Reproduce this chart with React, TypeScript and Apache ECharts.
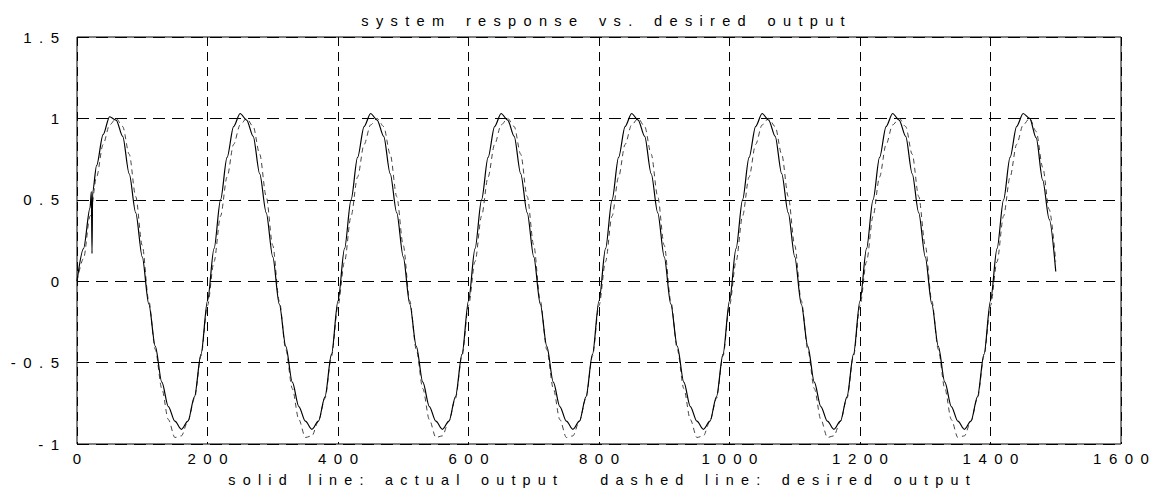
import React, { useEffect, useRef } from "react";
import * as echarts from "echarts";

const titleText = "system response vs. desired output";
const xAxisTitle = "solid line: actual output  dashed line: desired output";

// sample positions (every 10 time steps, 0..1500)
const sampleStep = 10;
const sampleCount = 151;

// actual output (solid)
const actualOutput = [
  0.00, 0.20, 0.45, 0.71, 0.90, 1.01, 0.99, 0.89, 0.66, 0.42, 0.15, -0.14, -0.40, -0.62, -0.77, -0.86, -0.91, -0.86, -0.71, -0.45,
  -0.12, 0.20, 0.50, 0.76, 0.95, 1.03, 0.99, 0.89, 0.66, 0.42, 0.15, -0.14, -0.40, -0.62, -0.77, -0.86, -0.91, -0.86, -0.71, -0.45,
  -0.12, 0.20, 0.50, 0.76, 0.95, 1.03, 0.99, 0.89, 0.66, 0.42, 0.15, -0.14, -0.40, -0.62, -0.77, -0.86, -0.91, -0.86, -0.71, -0.45,
  -0.12, 0.20, 0.50, 0.76, 0.95, 1.03, 0.99, 0.89, 0.66, 0.42, 0.15, -0.14, -0.40, -0.62, -0.77, -0.86, -0.91, -0.86, -0.71, -0.45,
  -0.12, 0.20, 0.50, 0.76, 0.95, 1.03, 0.99, 0.89, 0.66, 0.42, 0.15, -0.14, -0.40, -0.62, -0.77, -0.86, -0.91, -0.86, -0.71, -0.45,
  -0.12, 0.20, 0.50, 0.76, 0.95, 1.03, 0.99, 0.89, 0.66, 0.42, 0.15, -0.14, -0.40, -0.62, -0.77, -0.86, -0.91, -0.86, -0.71, -0.45,
  -0.12, 0.20, 0.50, 0.76, 0.95, 1.03, 0.99, 0.89, 0.66, 0.42, 0.15, -0.14, -0.40, -0.62, -0.77, -0.86, -0.91, -0.86, -0.71, -0.45,
  -0.12, 0.20, 0.50, 0.76, 0.95, 1.03, 1.00, 0.88, 0.62, 0.38, 0.06,
];

// start-up glitch in the actual output
const glitchX = [22, 23, 24];
const glitchY = [0.55, 0.17, 0.55];

// desired output (dashed)
const desiredOutput = [
  0.00, 0.14, 0.40, 0.64, 0.84, 0.96, 1.00, 0.95, 0.78, 0.52, 0.22, -0.12, -0.42, -0.66, -0.85, -0.96, -0.95, -0.86, -0.72, -0.46,
  -0.15, 0.12, 0.40, 0.64, 0.84, 0.96, 1.00, 0.95, 0.78, 0.52, 0.22, -0.12, -0.42, -0.66, -0.85, -0.96, -0.95, -0.86, -0.72, -0.46,
  -0.15, 0.12, 0.40, 0.64, 0.84, 0.96, 1.00, 0.95, 0.78, 0.52, 0.22, -0.12, -0.42, -0.66, -0.85, -0.96, -0.95, -0.86, -0.72, -0.46,
  -0.15, 0.12, 0.40, 0.64, 0.84, 0.96, 1.00, 0.95, 0.78, 0.52, 0.22, -0.12, -0.42, -0.66, -0.85, -0.96, -0.95, -0.86, -0.72, -0.46,
  -0.15, 0.12, 0.40, 0.64, 0.84, 0.96, 1.00, 0.95, 0.78, 0.52, 0.22, -0.12, -0.42, -0.66, -0.85, -0.96, -0.95, -0.86, -0.72, -0.46,
  -0.15, 0.12, 0.40, 0.64, 0.84, 0.96, 1.00, 0.95, 0.78, 0.52, 0.22, -0.12, -0.42, -0.66, -0.85, -0.96, -0.95, -0.86, -0.72, -0.46,
  -0.15, 0.12, 0.40, 0.64, 0.84, 0.96, 1.00, 0.95, 0.78, 0.52, 0.22, -0.12, -0.42, -0.66, -0.85, -0.96, -0.95, -0.86, -0.72, -0.46,
  -0.15, 0.12, 0.40, 0.64, 0.84, 0.96, 1.00, 0.92, 0.70, 0.44, 0.12,
];

const xMin = 0;
const xMax = 1600;
const xInterval = 200;
const yMin = -1;
const yMax = 1.5;
const yInterval = 0.5;

// letter-spaced rendering, like the old plotter output
const GAP = "\u2002";
const spaceOut = (s: string) =>
  s
    .split(" ")
    .map((w) => w.split("").join(GAP))
    .join(GAP + GAP + GAP);
const spaced = (v: number) => String(v).split("").join(GAP);

export default function App() {
  const ref = useRef<HTMLDivElement>(null);

  useEffect(() => {
    if (!ref.current) return;
    const chart = echarts.init(ref.current, null, { renderer: "svg" });

    const solidData: [number, number][] = [];
    for (let i = 0; i < sampleCount; i++) {
      solidData.push([i * sampleStep, actualOutput[i]]);
    }
    glitchX.forEach((gx, i) => solidData.push([gx, glitchY[i]]));
    solidData.sort((a, b) => a[0] - b[0]);

    const dashedData: [number, number][] = [];
    for (let i = 0; i < sampleCount; i++) {
      dashedData.push([i * sampleStep, desiredOutput[i]]);
    }

    const font = "'Liberation Sans', Arial, Helvetica, sans-serif";

    chart.setOption({
      animation: false,
      backgroundColor: "#ffffff",
      title: {
        text: spaceOut(titleText),
        left: 598,
        top: 8,
        textAlign: "center",
        textStyle: { fontSize: 14.6, fontWeight: "normal", color: "#000", fontFamily: font },
      },
      grid: {
        left: 77,
        right: 33,
        top: 37,
        bottom: 45,
        show: true,
        borderColor: "#000",
        borderWidth: 1,
        containLabel: false,
      },
      xAxis: {
        type: "value",
        min: xMin,
        max: xMax,
        interval: xInterval,
        name: spaceOut(xAxisTitle),
        nameLocation: "middle",
        nameGap: 29,
        nameTextStyle: { fontSize: 14.4, color: "#000", fontFamily: font },
        axisLine: { show: false },
        axisTick: { show: false },
        axisLabel: {
          margin: 7,
          fontSize: 15,
          color: "#000",
          fontFamily: font,
          formatter: (v: number) => spaced(v),
        },
        splitLine: { show: true, lineStyle: { color: "#000", width: 1, type: [9, 6] } },
      },
      yAxis: {
        type: "value",
        min: yMin,
        max: yMax,
        interval: yInterval,
        axisLine: { show: false },
        axisTick: { show: false },
        axisLabel: {
          margin: 18,
          fontSize: 15,
          color: "#000",
          fontFamily: font,
          formatter: (v: number) => spaced(v),
        },
        splitLine: { show: true, lineStyle: { color: "#000", width: 1, type: [12, 7] } },
      },
      series: [
        {
          name: "desired output",
          type: "line",
          data: dashedData,
          showSymbol: false,
          symbol: "none",
          smooth: 0.3,
          smoothMonotone: "x",
          lineStyle: { color: "#444", width: 1, type: [5, 4] },
          z: 3,
        },
        {
          name: "actual output",
          type: "line",
          data: solidData,
          showSymbol: false,
          symbol: "none",
          smooth: 0.3,
          smoothMonotone: "x",
          lineStyle: { color: "#000", width: 1.2 },
          z: 4,
        },
      ],
    });

    return () => chart.dispose();
  }, []);

  return (
    <div
      ref={ref}
      style={{ position: "absolute", left: 0, top: 0, width: 1154, height: 492 }}
    />
  );
}
